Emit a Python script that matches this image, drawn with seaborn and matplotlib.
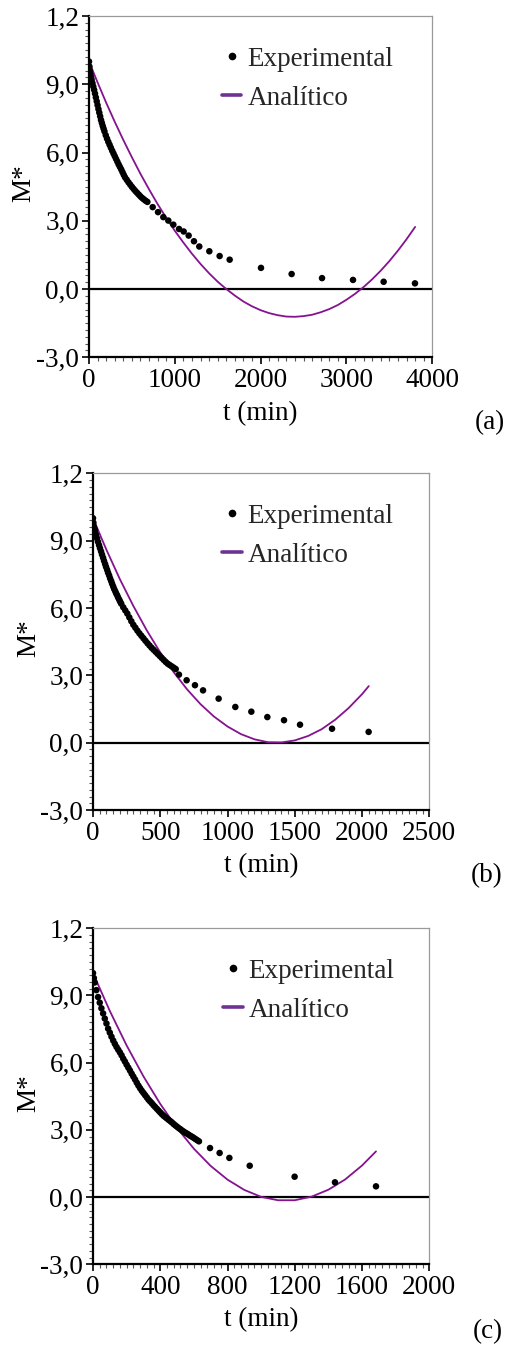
import matplotlib
matplotlib.use("Agg")
import matplotlib.pyplot as plt
import seaborn as sns
from matplotlib.lines import Line2D
from matplotlib.legend_handler import HandlerLine2D
from matplotlib.ticker import MultipleLocator

# ---------------- data ----------------
a_exp_t = [0, 5, 10, 15, 20, 25, 30, 40, 50, 60, 70, 80, 90, 100, 110, 120, 130, 140,
           150, 160, 170, 180, 195, 210, 225, 240, 255, 270, 285, 300, 315, 330, 345,
           360, 375, 390, 405, 420, 440, 460, 480, 500, 520, 540, 560, 580, 600, 620,
           640, 660, 680,
           742, 804, 866, 924, 983, 1049, 1103, 1161, 1223, 1285, 1402, 1522, 1639,
           2004, 2361, 2715, 3076, 3433, 3798]
a_exp_m = [10.00, 9.78, 9.60, 9.47, 9.36, 9.27, 9.19, 9.05, 8.90, 8.75, 8.59, 8.42, 8.25,
           8.08, 7.91, 7.75, 7.59, 7.43, 7.30, 7.17, 7.05, 6.93, 6.76, 6.61, 6.47, 6.34,
           6.21, 6.08, 5.96, 5.84, 5.72, 5.60, 5.48, 5.37, 5.26, 5.14, 5.02, 4.91, 4.80,
           4.69, 4.59, 4.49, 4.40, 4.31, 4.23, 4.15, 4.07, 4.00, 3.94, 3.88, 3.83,
           3.60, 3.38, 3.16, 3.01, 2.83, 2.64, 2.53, 2.35, 2.10, 1.87, 1.66, 1.45, 1.29,
           0.93, 0.66, 0.48, 0.40, 0.32, 0.25]
a_ana_t = [0, 100, 200, 300, 400, 500, 600, 700, 800, 900, 1000, 1100, 1200, 1300, 1400,
           1500, 1600, 1700, 1800, 1900, 2000, 2100, 2200, 2300, 2400, 2500, 2600, 2700,
           2800, 2900, 3000, 3100, 3200, 3300, 3400, 3500, 3600, 3700, 3800]
a_ana_m = [10.00, 9.08, 8.19, 7.35, 6.55, 5.79, 5.06, 4.38, 3.73, 3.13, 2.56, 2.04, 1.55,
           1.10, 0.69, 0.32, 0.00, -0.29, -0.55, -0.76, -0.93, -1.06, -1.15, -1.21, -1.22,
           -1.19, -1.13, -1.02, -0.88, -0.70, -0.47, -0.21, 0.09, 0.43, 0.81, 1.23, 1.69,
           2.19, 2.73]

b_exp_t = [0, 3, 7, 11, 15, 22, 30, 37, 45, 52, 60, 67, 75, 82, 90, 97, 105, 112, 120,
           127, 135, 142, 150, 157, 165, 172, 180, 187, 195, 202, 210, 225, 240, 255, 270,
           285, 300, 315, 330, 345, 360, 375, 390, 405, 420, 435, 450, 465, 480, 495, 510,
           525, 540, 555, 570, 585, 600, 615,
           639, 696, 758, 818, 934, 1058, 1177, 1296, 1420, 1539, 1777, 2049]
b_exp_m = [10.00, 9.80, 9.62, 9.52, 9.45, 9.27, 9.10, 8.95, 8.80, 8.66, 8.52, 8.38, 8.24,
           8.10, 7.96, 7.83, 7.70, 7.57, 7.45, 7.32, 7.20, 7.08, 6.96, 6.85, 6.75, 6.65,
           6.56, 6.46, 6.37, 6.28, 6.19, 6.03, 5.89, 5.75, 5.58, 5.41, 5.25, 5.12, 4.99,
           4.87, 4.76, 4.65, 4.54, 4.43, 4.33, 4.23, 4.14, 4.05, 3.96, 3.87, 3.78, 3.69,
           3.60, 3.52, 3.46, 3.40, 3.34, 3.28,
           3.03, 2.78, 2.56, 2.33, 1.96, 1.59, 1.38, 1.14, 1.00, 0.80, 0.62, 0.48]
b_ana_t = [0, 100, 200, 300, 400, 500, 600, 700, 800, 900, 1000, 1100, 1200, 1300,
           1400, 1500, 1600, 1700, 1800, 1900, 2000, 2050]
b_ana_m = [10.00, 8.59, 7.28, 6.09, 5.00, 4.02, 3.14, 2.37, 1.71, 1.16, 0.72, 0.38,
           0.15, 0.02, 0.01, 0.10, 0.30, 0.60, 1.02, 1.54, 2.16, 2.52]

c_exp_t = [0, 5, 10, 20, 30, 40, 50, 60, 70, 80, 90, 100, 110, 120, 130, 140, 150, 160,
           170, 180, 190, 200, 210, 220, 230, 240, 250, 260, 270, 280, 290, 300, 310, 320,
           330, 340, 350, 360, 370, 380, 390, 400, 410, 420, 430, 440, 450, 460, 470, 480,
           490, 500, 510, 520, 530, 540, 550, 560, 570, 580, 590, 600, 610, 620, 630,
           696, 753, 811, 932, 1199, 1439, 1683]
c_exp_m = [10.00, 9.78, 9.58, 9.24, 8.93, 8.68, 8.43, 8.20, 7.97, 7.75, 7.52, 7.34, 7.16,
           6.99, 6.84, 6.70, 6.58, 6.46, 6.33, 6.18, 6.05, 5.91, 5.78, 5.65, 5.51, 5.38,
           5.25, 5.11, 4.98, 4.86, 4.75, 4.65, 4.55, 4.45, 4.35, 4.27, 4.19, 4.10, 4.02,
           3.94, 3.86, 3.78, 3.70, 3.63, 3.57, 3.51, 3.45, 3.39, 3.33, 3.26, 3.20, 3.14,
           3.08, 3.03, 2.97, 2.92, 2.87, 2.83, 2.78, 2.73, 2.69, 2.64, 2.59, 2.54, 2.49,
           2.19, 1.97, 1.75, 1.40, 0.91, 0.66, 0.48]
c_ana_t = [0, 100, 200, 300, 400, 500, 600, 700, 800, 900, 1000, 1100, 1200, 1300,
           1400, 1500, 1600, 1683]
c_ana_m = [10.00, 8.31, 6.77, 5.39, 4.16, 3.08, 2.16, 1.39, 0.78, 0.32, 0.01, -0.14,
           -0.14, 0.02, 0.33, 0.79, 1.41, 2.04]

y_ticks = [-3, 0, 3, 6, 9, 12]
y_tick_labels = ["-3,0", "0,0", "3,0", "6,0", "9,0", "1,2"]
a_x_ticks = [0, 1000, 2000, 3000, 4000]
b_x_ticks = [0, 500, 1000, 1500, 2000, 2500]
c_x_ticks = [0, 400, 800, 1200, 1600, 2000]
panel_tags = ["(a)", "(b)", "(c)"]
legend_labels = ["Experimental", "Analítico"]

# ---------------- style ----------------
sns.set_theme(style="white")
plt.rcParams['font.family'] = ['Liberation Serif', 'DejaVu Serif']
FS = 19.5
CURVE = '#85128f'
LEGLINE = '#6e3296'

W, H = 509, 1345
fig = plt.figure(figsize=(W / 100, H / 100), dpi=100)


def rect(l, r, t, b):
    return [l / W, 1 - b / H, (r - l) / W, (b - t) / H]


class RightMarker(HandlerLine2D):
    def get_xdata(self, legend, xdescent, ydescent, width, height, fontsize):
        xdata, xm = super().get_xdata(legend, xdescent, ydescent, width, height, fontsize)
        return xdata, [-xdescent + width - 2.5]


panels = [
    dict(rect=rect(89, 432.3, 16, 357.3), et=a_exp_t, em=a_exp_m, at=a_ana_t, am=a_ana_m,
         xt=a_x_ticks, minor=100, legx=0.387, tag=(490, 423)),
    dict(rect=rect(93, 429.3, 473.3, 810), et=b_exp_t, em=b_exp_m, at=b_ana_t, am=b_ana_m,
         xt=b_x_ticks, minor=50, legx=0.384, tag=(487, 876)),
    dict(rect=rect(93, 429.3, 928.3, 1264.3), et=c_exp_t, em=c_exp_m, at=c_ana_t, am=c_ana_m,
         xt=c_x_ticks, minor=40, legx=0.387, tag=(488, 1332)),
]

for i, p in enumerate(panels):
    ax = fig.add_axes(p['rect'])
    ax.set_facecolor('white')
    ax.axhline(0, color='black', lw=1.6, zorder=1)
    sns.lineplot(x=p['at'], y=p['am'], ax=ax, color=CURVE, lw=1.3, estimator=None,
                 legend=False, zorder=2)
    sns.scatterplot(x=p['et'], y=p['em'], ax=ax, color='black', s=22, linewidth=0,
                    edgecolor='none', legend=False, zorder=3)

    ax.set_xlim(p['xt'][0], p['xt'][-1])
    ax.set_ylim(-3, 12)
    ax.set_xticks(p['xt'])
    ax.set_xticklabels([str(v) for v in p['xt']])
    ax.set_yticks(y_ticks)
    ax.set_yticklabels(y_tick_labels)
    ax.xaxis.set_minor_locator(MultipleLocator(p['minor']))
    ax.yaxis.set_minor_locator(MultipleLocator(0.3))
    ax.tick_params(which='both', bottom=True, left=True, top=False, right=False,
                   direction='out')
    ax.tick_params(which='major', length=5, width=1.2, color='black', labelsize=FS,
                   labelcolor='black')
    ax.tick_params(axis='x', which='major', pad=3)
    ax.tick_params(axis='y', which='major', pad=2)
    ax.tick_params(which='minor', length=3, width=0.8, color='#555555')

    for s in ['left', 'bottom']:
        ax.spines[s].set_color('black')
        ax.spines[s].set_linewidth(1.6)
    for s in ['top', 'right']:
        ax.spines[s].set_color('#9a9a9a')
        ax.spines[s].set_linewidth(0.9)

    ax.set_xlabel('t (min)', fontsize=FS, color='black')
    ax.xaxis.label.set_verticalalignment('center')
    ax.xaxis.set_label_coords(0.5, -0.165)
    ax.set_ylabel('M*', fontsize=FS, color='black')
    ax.yaxis.label.set_verticalalignment('center')
    ax.yaxis.set_label_coords(-0.19, 0.51)

    h_exp = Line2D([], [], ls='none', marker='o', color='black', markersize=5.5,
                   markeredgewidth=0)
    h_ana = Line2D([], [], color=LEGLINE, lw=2.6)
    ax.legend([h_exp, h_ana], legend_labels, loc='upper left',
              bbox_to_anchor=(p['legx'], 0.91), frameon=False, fontsize=FS,
              handlelength=0.72, handletextpad=0.22, borderpad=0, borderaxespad=0,
              labelspacing=0.52, handler_map={h_exp: RightMarker(numpoints=1)})

    fig.text(p['tag'][0] / W, 1 - p['tag'][1] / H, panel_tags[i], fontsize=FS,
             ha='center', va='center', color='black')

fig.savefig('out.png', dpi=100)
